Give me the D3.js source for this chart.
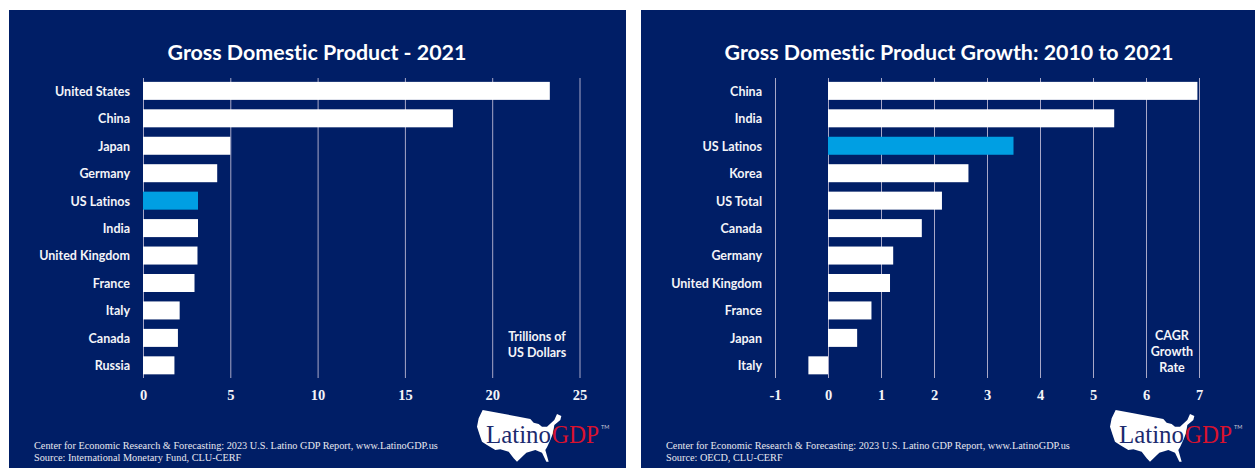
<!DOCTYPE html>
<html><head><meta charset="utf-8">
<script src="https://cdn.jsdelivr.net/npm/d3@7/dist/d3.min.js"></script>
<style>html,body{margin:0;padding:0;background:#fff}svg{display:block}text{font-variant-ligatures:none}</style></head>
<body><svg id="c" width="1255" height="468"></svg>
<script>
const gdpCategories = ["United States","China","Japan","Germany","US Latinos","India","United Kingdom","France","Italy","Canada","Russia"];
const gdpValues = [23.3,17.75,5.0,4.25,3.15,3.15,3.12,2.95,2.1,2.0,1.8];
const gdpTicks = [0,5,10,15,20,25];
const growthCategories = ["China","India","US Latinos","Korea","US Total","Canada","Germany","United Kingdom","France","Japan","Italy"];
const growthValues = [6.97,5.4,3.5,2.65,2.15,1.77,1.23,1.17,0.82,0.55,-0.37];
const growthTicks = [-1,0,1,2,3,4,5,6,7];
const footerOrg = "Center for Economic Research & Forecasting: 2023 U.S. Latino GDP Report, www.LatinoGDP.us";

const NAVY="#001e66", BLUE="#009fe3", GRID="#a8a8c8", SANS="Lato, 'Open Sans', sans-serif", SERIF="'Liberation Serif', serif";
const svg=d3.select("#c");

// Outline of the logo's map, in the logo's own coordinates (3x)
const mapOutline=[[47,30],[100,40],[155,50],[190,57],[200,68],[215,72],[225,80],[240,80],[262,60],[270,42],[283,48],[280,60],[262,75],[258,100],[250,120],[240,142],[235,150],[245,185],[238,185],[225,158],[205,150],[178,158],[150,185],[140,175],[125,155],[100,148],[85,150],[60,135],[45,125],[38,105],[30,80],[35,55]];

function panel(o){
  const g=svg.append("g");
  g.append("rect").attr("x",o.left).attr("y",10).attr("width",o.w).attr("height",458).attr("fill",NAVY);
  g.append("text").attr("x",o.titleX).attr("y",59.5).attr("text-anchor","middle").attr("fill","#fff")
    .attr("font-family",SANS).attr("font-weight",700).attr("font-size",21.4).text(o.title);
  const x=d3.scaleLinear().domain(o.domain).range(o.range);
  const y=d3.scaleBand().domain(o.cats).range([77.2,379]).paddingInner(0.344).paddingOuter(0.17);
  const ax=g.append("g").attr("transform","translate(0,378)")
    .call(d3.axisBottom(x).tickValues(o.ticks).tickFormat(d=>String(d)).tickSize(-300).tickPadding(12));
  ax.select(".domain").remove();
  ax.selectAll("line").attr("stroke",GRID).attr("stroke-width",1);
  ax.selectAll("text").attr("fill","#f4f4f8").attr("font-family",SERIF).attr("font-weight",700).attr("font-size",14.5);
  g.selectAll(".bar").data(o.vals).join("rect").attr("class","bar")
    .attr("x",d=>x(Math.min(0,d))).attr("width",d=>Math.abs(x(d)-x(0)))
    .attr("y",(d,i)=>y(o.cats[i])).attr("height",y.bandwidth())
    .attr("fill",(d,i)=>o.cats[i]==="US Latinos"?BLUE:"#fff");
  g.selectAll(".cat").data(o.cats).join("text").attr("class","cat")
    .attr("x",o.labelX).attr("y",d=>y(d)+y.bandwidth()/2+0.5).attr("dy","0.35em").attr("text-anchor","end")
    .attr("fill","#f4f4f8").attr("font-family",SANS).attr("font-weight",700).attr("font-size",12.5).text(d=>d);
  o.note.forEach((t,i)=>g.append("text").attr("x",o.noteX).attr("y",o.noteY+i*16).attr("text-anchor","middle")
    .attr("fill","#f4f4f8").attr("font-family",SANS).attr("font-weight",700).attr("font-size",12.5).text(t));
  [footerOrg,o.source].forEach((t,i)=>g.append("text").attr("x",o.left+25).attr("y",449+i*11.5)
    .attr("fill","#e8e8f0").attr("font-family",SERIF).attr("font-size",10.27).text(t));
  // logo
  const l=g.append("g").attr("transform",`translate(${o.logoX},400)`);
  l.append("path").attr("d",d3.line().x(d=>d[0]/3).y(d=>d[1]/3).curve(d3.curveLinearClosed)(mapOutline)).attr("fill","#fff");
  l.append("text").attr("x",19).attr("y",42.5).attr("font-family",SERIF).attr("font-size",26).attr("fill","#1c2a6e")
    .attr("textLength",65).attr("lengthAdjust","spacingAndGlyphs").text("Latino");
  l.append("text").attr("x",85).attr("y",42.5).attr("font-family",SERIF).attr("font-size",24.5).attr("fill","#d8122e")
    .attr("textLength",47).attr("lengthAdjust","spacingAndGlyphs").text("GDP");
  l.append("text").attr("x",134).attr("y",29).attr("fill","#c8c8d8").attr("font-family",SANS).attr("font-size",5.5).text("TM");
}
panel({left:9,w:617,title:"Gross Domestic Product - 2021",titleX:317,cats:gdpCategories,vals:gdpValues,ticks:gdpTicks,
  domain:[0,25],range:[143,579.5],labelX:130,note:["Trillions of","US Dollars"],noteX:537,noteY:341,
  source:"Source: International Monetary Fund, CLU-CERF",logoX:467});
panel({left:641,w:614,title:"Gross Domestic Product Growth: 2010 to 2021",titleX:949,cats:growthCategories,vals:growthValues,ticks:growthTicks,
  domain:[-1,7],range:[775,1199],labelX:762,note:["CAGR","Growth","Rate"],noteX:1172,noteY:340,
  source:"Source: OECD, CLU-CERF",logoX:1100});
</script></body></html>
